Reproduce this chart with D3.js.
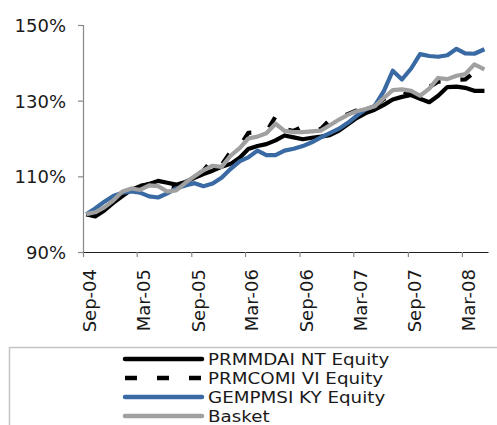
<!DOCTYPE html>
<html>
<head>
<meta charset="utf-8">
<script src="https://cdn.jsdelivr.net/npm/d3@7"></script>
<style>
  html, body { margin: 0; padding: 0; background: #fff; }
  svg { display: block; }
  text { font-family: "DejaVu Sans", Verdana, sans-serif; fill: #1a1a1a; }
</style>
</head>
<body>
<svg id="chart" width="497" height="425"></svg>
<script>
// ---- data ----
const dates = [
  "2004-09-12","2004-10-12","2004-11-12","2004-12-12",
  "2005-01-12","2005-02-12","2005-03-12","2005-04-12","2005-05-12","2005-06-12",
  "2005-07-12","2005-08-12","2005-09-12","2005-10-12","2005-11-12","2005-12-12",
  "2006-01-12","2006-02-12","2006-03-12","2006-04-12","2006-05-12","2006-06-12",
  "2006-07-12","2006-08-12","2006-09-12","2006-10-12","2006-11-12","2006-12-12",
  "2007-01-12","2007-02-12","2007-03-12","2007-04-12","2007-05-12","2007-06-12",
  "2007-07-12","2007-08-12","2007-09-12","2007-10-12","2007-11-12","2007-12-12",
  "2008-01-12","2008-02-12","2008-03-12","2008-04-12","2008-05-16"
];
const prmmdai = [100,99.4,101,103,104.8,106.5,107.4,108,108.8,108.3,
  107.8,108.5,109.6,110.6,111.5,112.5,113.3,115,117.2,118,
  118.5,119.5,120.8,120.3,119.8,120.2,120.5,120.9,122.1,123.8,
  125.4,126.7,127.6,128.9,130.3,131,131.5,130.5,129.6,131.3,
  133.6,133.7,133.4,132.6,132.6];
const prmcomi = [100,99.6,101.5,103.5,105.8,106.8,107.5,107.8,108,107.2,
  106.8,108.2,110,111.5,114.5,113,116.5,118,121.5,121.6,
  121.8,125.8,122.5,122,123.2,122.5,122.5,125,125.5,126.5,
  127.4,128,128.5,130.5,131,132.5,131.5,130.8,133.6,135,
  135,135.5,135.6,137.5,138];
const gempmsi = [100,101.5,103.3,104.8,105.7,106,105.7,104.7,104.4,105.5,
  106.8,107.6,108.2,107.4,108.1,109.6,112,114,115,116.8,
  115.6,115.6,116.8,117.3,118,119,120.3,121.4,122.6,124.2,
  126,127.7,128.6,132.5,137.9,135.6,138.5,142.3,141.8,141.6,
  142,143.7,142.5,142.4,143.6];
const basket = [100,100.5,101.8,103.6,106,106.8,106.4,107.6,107.4,106,
  106.3,108.3,110,111.6,112.8,112.5,115.5,117.5,120,120.5,
  121.4,123.9,122,121.7,121.7,121.9,122.1,123.5,125,126.3,
  127.2,127.8,128.5,130.7,132.8,133,132.6,131.3,133.2,136,
  135.7,136.6,137,139.6,138.3];
const seriesNames = ["PRMMDAI NT Equity","PRMCOMI VI Equity","GEMPMSI KY Equity","Basket"];
const yTicks = [90,110,130,150];
const xTickDates = ["2004-09-01","2005-03-01","2005-09-01","2006-03-01","2006-09-01","2007-03-01","2007-09-01","2008-03-01"];

// ---- styles ----
const styles = [
  {color:"#000000", dash:null},
  {color:"#000000", dash:"12,20"},
  {color:"#3a6aa3", dash:null},
  {color:"#a0a0a0", dash:null}
];
const seriesValues = [prmmdai, prmcomi, gempmsi, basket];

const parse = d3.timeParse("%Y-%m-%d");
const svg = d3.select("#chart");

const x = d3.scaleTime()
  .domain([parse("2004-09-01"), parse("2008-05-28")])
  .range([83, 488]);
const y = d3.scaleLinear().domain([90,150]).range([252, 25]);

// y axis
const yAxis = d3.axisLeft(y).tickValues(yTicks).tickSize(5).tickFormat(d => d + "%");
const gy = svg.append("g").attr("transform","translate(83,0)").call(yAxis);
gy.select(".domain").attr("stroke","#888").attr("stroke-width",1.2);
gy.selectAll(".tick line").attr("stroke","#888").attr("stroke-width",1.2);
gy.selectAll(".tick text").attr("x",-17).attr("dy","0.36em")
  .style("font-size","18px").style("font-family","DejaVu Sans, Verdana, sans-serif").attr("fill","#1a1a1a");

// x axis
const xAxis = d3.axisBottom(x).tickValues(xTickDates.map(parse)).tickSize(5)
  .tickFormat(d3.timeFormat("%b-%y")).tickSizeOuter(0);
const gx = svg.append("g").attr("transform","translate(0,252)").call(xAxis);
gx.select(".domain").attr("stroke","#222").attr("stroke-width",1.2);
gx.selectAll(".tick line").attr("stroke","#888").attr("stroke-width",1.2);
gx.selectAll(".tick text")
  .attr("transform","rotate(-90)")
  .attr("text-anchor","end")
  .attr("x",-17).attr("y",0).attr("dy","0.72em")
  .style("font-size","18px").style("font-family","DejaVu Sans, Verdana, sans-serif").attr("fill","#1a1a1a");

// lines
const line = d3.line().x((d,i) => x(parse(dates[i]))).y(d => y(d));
seriesValues.forEach((vals, k) => {
  svg.append("path")
    .datum(vals)
    .attr("d", line)
    .attr("fill","none")
    .attr("stroke", styles[k].color)
    .attr("stroke-width", 4.2)
    .attr("stroke-linejoin","round")
    .attr("stroke-dasharray", styles[k].dash);
});

// legend box
svg.append("path")
  .attr("d","M9.5,425 L9.5,347.5 L497,347.5")
  .attr("fill","none").attr("stroke","#c4c4c4").attr("stroke-width",1.5);

const lg = svg.append("g");
seriesNames.forEach((name, k) => {
  const cy = 359 + 19*k;
  lg.append("line")
    .attr("x1",125).attr("x2",202).attr("y1",cy).attr("y2",cy)
    .attr("stroke", styles[k].color).attr("stroke-width",4.5)
    .attr("stroke-linecap", styles[k].dash ? "butt" : "round")
    .attr("stroke-dasharray", styles[k].dash ? "12,20" : null);
  lg.append("text")
    .attr("transform", `translate(208,${cy + 5.8}) scale(1.13,1)`)
    .style("font-size","16.2px")
    .text(name);
});
</script>
</body>
</html>
